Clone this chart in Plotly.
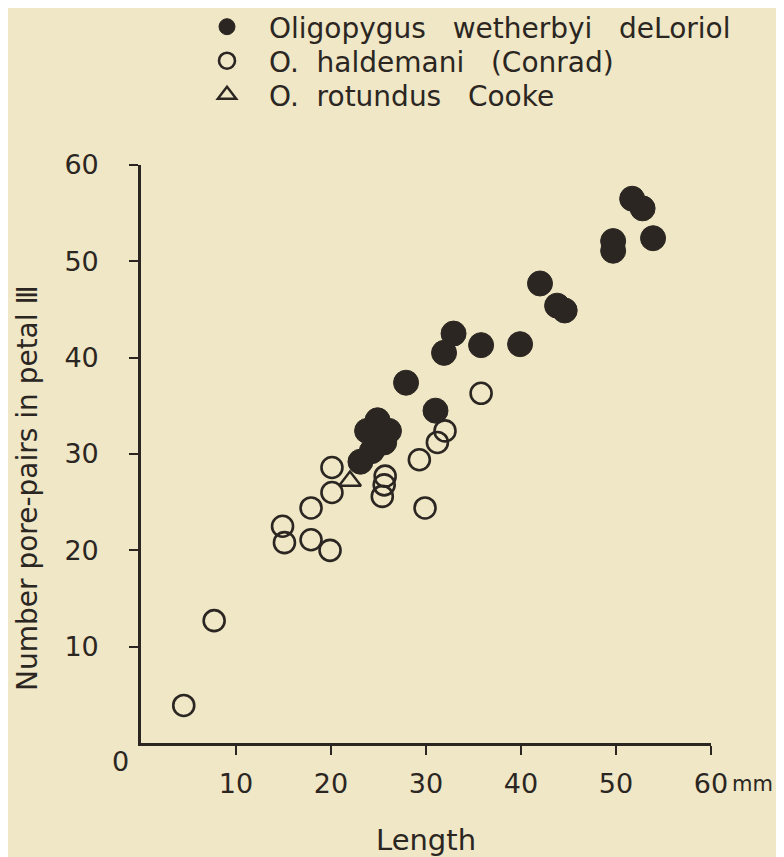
import plotly.graph_objects as go

# O. wetherbyi (filled circles)
wetherbyi_len = [51.7, 52.8, 53.9, 49.7, 49.7, 42.0, 43.8, 44.6, 39.9, 35.8, 32.9, 31.9,
                 27.9, 31.0, 24.9, 23.8, 26.1, 25.6, 24.3, 23.1]
wetherbyi_pores = [56.5, 55.5, 52.4, 52.1, 51.1, 47.7, 45.4, 44.9, 41.4, 41.3, 42.5, 40.5,
                   37.4, 34.5, 33.5, 32.4, 32.4, 31.2, 30.3, 29.2]

# O. haldemani (open circles)
haldemani_len = [4.5, 7.7, 14.9, 15.1, 17.9, 17.9, 19.9, 20.1, 20.1, 25.7, 25.6, 25.4,
                 29.3, 29.9, 31.2, 32.0, 35.8]
haldemani_pores = [3.9, 12.7, 22.5, 20.8, 24.4, 21.1, 20.0, 28.6, 26.0, 27.7, 26.8, 25.6,
                   29.4, 24.4, 31.2, 32.4, 36.3]

# O. rotundus (open triangle)
rotundus_len = [22.0]
rotundus_pores = [27.2]

x_ticks = [10, 20, 30, 40, 50, 60]
x_ticktext = ["10", "20", "30", "40", "50", "60"]
y_ticks = [10, 20, 30, 40, 50, 60]
y_ticktext = ["10", "20", "30", "40", "50", "60"]

BG = "#EFE7C6"
INK = "#2b2622"
FONT = "DejaVu Sans"

W, H = 784, 857
ML, MR, MT, MB = 133, 81, 157, 122
PH = H - MT - MB


def ypaper(py):
    return (H - MB - py) / PH


fig = go.Figure()
fig.add_trace(go.Scatter(
    x=wetherbyi_len, y=wetherbyi_pores, mode="markers", legend="legend",
    name="Oligopygus   wetherbyi   deLoriol",
    marker=dict(symbol="circle", size=25, color=INK, line=dict(color=INK, width=1)),
))
fig.add_trace(go.Scatter(
    x=haldemani_len, y=haldemani_pores, mode="markers", legend="legend2",
    name="O.  haldemani   (Conrad)",
    marker=dict(symbol="circle-open", size=21, color=INK, line=dict(color=INK, width=2.6)),
))
fig.add_trace(go.Scatter(
    x=rotundus_len, y=rotundus_pores, mode="markers", legend="legend3",
    name="O.  rotundus   Cooke",
    marker=dict(symbol="triangle-up-open", size=19, color=INK, line=dict(color=INK, width=2.4)),
))

leg_common = dict(
    x=(177 - ML) / (W - ML - MR), xanchor="left", yanchor="middle",
    bgcolor="rgba(0,0,0,0)", borderwidth=0,
    font=dict(family=FONT, size=28, color=INK),
    itemwidth=74, itemsizing="trace",
)

fig.update_layout(
    width=W, height=H,
    margin=dict(l=ML, r=MR, t=MT, b=MB, autoexpand=False),
    paper_bgcolor=BG, plot_bgcolor=BG,
    font=dict(family=FONT, color=INK, size=27),
    showlegend=True,
    legend=dict(y=ypaper(19), **leg_common),
    legend2=dict(y=ypaper(53), **leg_common),
    legend3=dict(y=ypaper(87), **leg_common),
    xaxis=dict(
        range=[0, 60], showgrid=False, zeroline=False,
        showline=True, linecolor=INK, linewidth=2.6,
        ticks="outside", ticklen=9, tickwidth=2.4, tickcolor=INK,
        tickvals=x_ticks, ticktext=x_ticktext,
        tickfont=dict(family=FONT, size=27, color=INK),
        ticklabelstandoff=6,
        title=dict(text="Length", font=dict(family=FONT, size=29, color=INK), standoff=32),
    ),
    yaxis=dict(
        range=[0, 60], showgrid=False, zeroline=False,
        showline=True, linecolor=INK, linewidth=2.6,
        ticks="outside", ticklen=9, tickwidth=2.4, tickcolor=INK,
        tickvals=y_ticks, ticktext=y_ticktext,
        tickfont=dict(family=FONT, size=27, color=INK),
        ticklabelstandoff=25,
    ),
    annotations=[
        dict(text="0", x=0, y=0, xref="x", yref="y", showarrow=False,
             xshift=-21, yshift=-18, font=dict(family=FONT, size=27, color=INK)),
        dict(text="mm", x=60, y=0, xref="x", yref="y", showarrow=False,
             xanchor="left", yanchor="middle", xshift=19, yshift=-41,
             font=dict(family=FONT, size=21, color=INK)),
        dict(text="Number pore-pairs in petal Ⅲ", x=0, y=ypaper(480),
             xref="paper", yref="paper", showarrow=False, textangle=-90,
             xanchor="center", yanchor="middle", xshift=-114,
             font=dict(family=FONT, size=28, color=INK)),
    ],
)

fig.write_html("out.html")
